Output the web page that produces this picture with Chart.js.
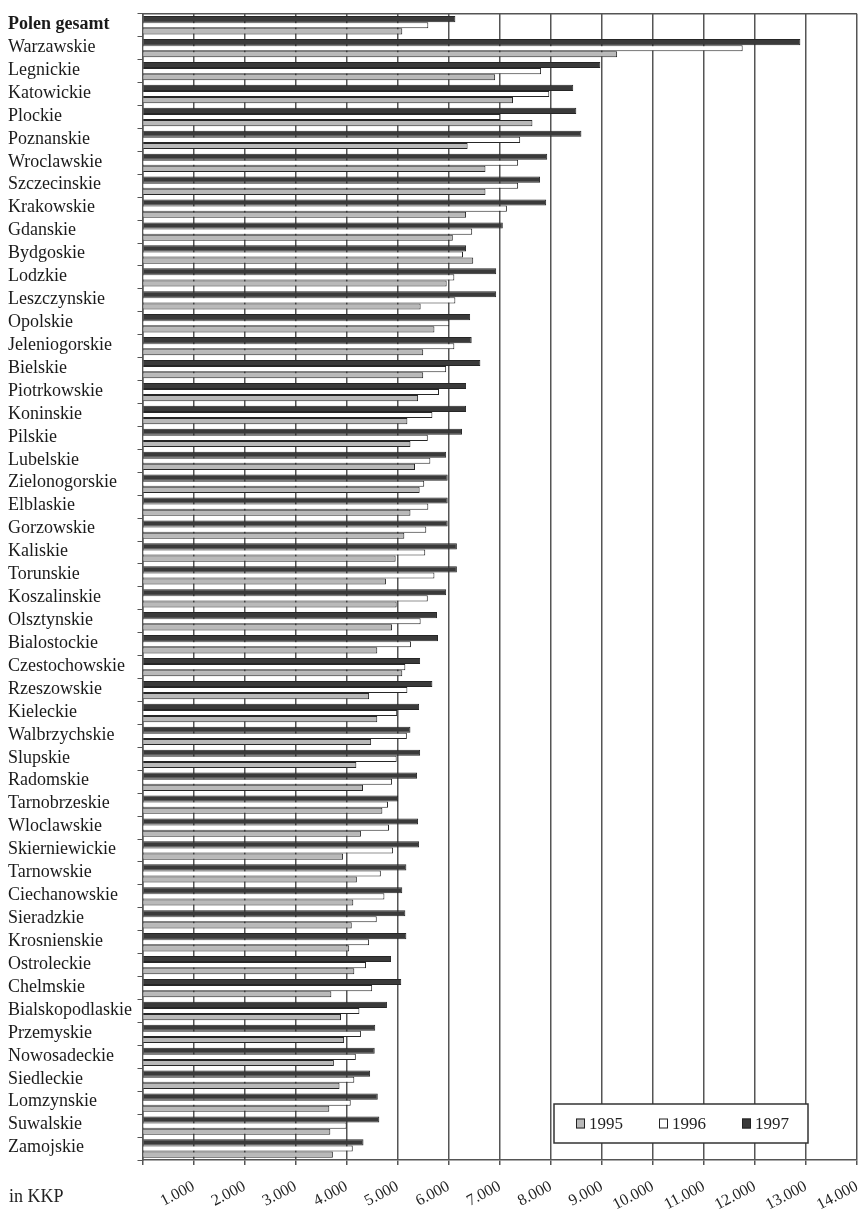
<!DOCTYPE html>
<html>
<head>
<meta charset="utf-8">
<title>Polen gesamt - in KKP</title>
<script src="https://cdn.jsdelivr.net/npm/chart.js@4.4.0/dist/chart.umd.min.js"></script>
<style>
    html, body { margin: 0; padding: 0; background: #fff; }
    #wrap { position: relative; width: 859px; height: 1219px; }
</style>
</head>
<body>
<div id="wrap"><canvas id="myChart"></canvas></div>
<script>
/*global Chart*/

const regions = [
    'Polen gesamt', 'Warzawskie', 'Legnickie', 'Katowickie', 'Plockie',
    'Poznanskie', 'Wroclawskie', 'Szczecinskie', 'Krakowskie', 'Gdanskie',
    'Bydgoskie', 'Lodzkie', 'Leszczynskie', 'Opolskie', 'Jeleniogorskie',
    'Bielskie', 'Piotrkowskie', 'Koninskie', 'Pilskie', 'Lubelskie',
    'Zielonogorskie', 'Elblaskie', 'Gorzowskie', 'Kaliskie', 'Torunskie',
    'Koszalinskie', 'Olsztynskie', 'Bialostockie', 'Czestochowskie', 'Rzeszowskie',
    'Kieleckie', 'Walbrzychskie', 'Slupskie', 'Radomskie', 'Tarnobrzeskie',
    'Wloclawskie', 'Skierniewickie', 'Tarnowskie', 'Ciechanowskie', 'Sieradzkie',
    'Krosnienskie', 'Ostroleckie', 'Chelmskie', 'Bialskopodlaskie', 'Przemyskie',
    'Nowosadeckie', 'Siedleckie', 'Lomzynskie', 'Suwalskie', 'Zamojskie'
];

const values1995 = [
    5090, 9300, 6910, 7260, 7640, 6370, 6720, 6720, 6340, 6080,
    6480, 5960, 5450, 5720, 5500, 5500, 5400, 5190, 5250, 5340,
    5430, 5250, 5130, 4960, 4770, 4980, 4890, 4600, 5090, 4440,
    4600, 4480, 4190, 4320, 4700, 4280, 3930, 4200, 4130, 4100,
    4050, 4150, 3700, 3890, 3950, 3750, 3860, 3660, 3680, 3730
];

const values1996 = [
    5600, 11760, 7810, 7970, 7010, 7400, 7360, 7360, 7140, 6460,
    6280, 6110, 6130, 6010, 6110, 5950, 5810, 5680, 5590, 5640,
    5520, 5600, 5560, 5540, 5720, 5590, 5450, 5260, 5150, 5190,
    4990, 5180, 4980, 4890, 4810, 4830, 4910, 4670, 4740, 4590,
    4440, 4380, 4500, 4250, 4280, 4180, 4150, 4080, 4000, 4120
];

const values1997 = [
    6130, 12890, 8970, 8440, 8500, 8600, 7930, 7790, 7910, 7060,
    6340, 6930, 6930, 6420, 6450, 6620, 6340, 6340, 6260, 5950,
    5980, 5980, 5980, 6160, 6160, 5950, 5770, 5790, 5440, 5680,
    5420, 5250, 5440, 5380, 5010, 5400, 5420, 5170, 5090, 5150,
    5170, 4870, 5070, 4790, 4560, 4550, 4460, 4610, 4640, 4330
];

const years = ['1995', '1996', '1997'];
const xTickLabels = ['', '1.000', '2.000', '3.000', '4.000', '5.000', '6.000', '7.000',
    '8.000', '9.000', '10.000', '11.000', '12.000', '13.000', '14.000'];
const unitLabel = 'in KKP';

const SERIF = '"Liberation Serif", "Times New Roman", serif';

// rahmen oben
const frame = {
    id: 'frame',
    afterDatasetsDraw(chart) {
        const {ctx, chartArea: a} = chart;
        ctx.save();
        ctx.strokeStyle = '#555';
        ctx.lineWidth = 1.5;
        ctx.beginPath();
        ctx.moveTo(a.left, a.top);
        ctx.lineTo(a.right, a.top);
        ctx.stroke();
        ctx.restore();
    }
};

// legende im diagramm unten rechts
const boxLegend = {
    id: 'boxLegend',
    afterDraw(chart) {
        const {ctx, chartArea: a} = chart;
        const left = a.right - 303, top = a.bottom - 56, w = 254, h = 39;
        ctx.save();
        ctx.fillStyle = '#fff';
        ctx.fillRect(left, top, w, h);
        ctx.strokeStyle = '#333';
        ctx.lineWidth = 1.5;
        ctx.strokeRect(left, top, w, h);
        ctx.font = '17px ' + SERIF;
        ctx.textBaseline = 'middle';
        const items = chart.data.datasets.slice().reverse();
        items.forEach((ds, i) => {
            const x = left + 22 + i * 83;
            const y = top + h / 2;
            ctx.fillStyle = ds.backgroundColor;
            ctx.fillRect(x, y - 5, 9, 10);
            ctx.strokeStyle = '#222';
            ctx.lineWidth = 1;
            ctx.strokeRect(x + 0.5, y - 4.5, 8, 9);
            ctx.fillStyle = '#222';
            ctx.fillText(ds.label, x + 13, y + 1);
        });
        ctx.restore();
    }
};

// einheit links unten
const unitText = {
    id: 'unitText',
    afterDraw(chart) {
        const {ctx, chartArea: a} = chart;
        ctx.save();
        ctx.font = '18px ' + SERIF;
        ctx.fillStyle = '#222';
        ctx.textBaseline = 'middle';
        ctx.fillText(unitLabel, 9, a.bottom + 37);
        ctx.restore();
    }
};

const data = {
    labels: regions,
    datasets: [
        {label: years[2], data: values1997, backgroundColor: '#3a3a3a'},
        {label: years[1], data: values1996, backgroundColor: '#ffffff'},
        {label: years[0], data: values1995, backgroundColor: '#b9b9b9'}
    ]
};
data.datasets.forEach(ds => {
    ds.borderColor = '#262626';
    ds.borderWidth = 1;
    ds.categoryPercentage = 0.8;
    ds.barPercentage = 1.0;
});

const config = {
    type: 'bar',
    data,
    options: {
        indexAxis: 'y',
        responsive: true,
        maintainAspectRatio: false,
        animation: false,
        layout: {padding: {left: 8, top: 10, right: 2, bottom: 0}},
        plugins: {
            legend: {display: false},
            tooltip: {enabled: false}
        },
        scales: {
            x: {
                min: 0,
                max: 14000,
                ticks: {
                    stepSize: 1000,
                    autoSkip: false,
                    maxRotation: 28,
                    minRotation: 28,
                    padding: 12,
                    color: '#222',
                    font: {family: SERIF, size: 16},
                    callback: (value, i) => xTickLabels[i]
                },
                grid: {color: '#555', lineWidth: 1.5, tickLength: 5},
                border: {color: '#555', width: 1.5},
                afterFit(scale) {
                    scale.height = 59;
                    scale.paddingLeft = 0;
                    scale.paddingRight = 0;
                }
            },
            y: {
                ticks: {
                    crossAlign: 'far',
                    autoSkip: false,
                    labelOffset: -1,
                    color: '#1a1a1a',
                    font: ctx => ({
                        family: SERIF,
                        size: 18,
                        weight: ctx.index === 0 ? 'bold' : 'normal'
                    })
                },
                grid: {drawOnChartArea: false, color: '#555', tickLength: 5},
                border: {color: '#555', width: 1.5},
                afterFit(scale) {
                    scale.width = 134.5;
                }
            }
        }
    },
    plugins: [frame, boxLegend, unitText]
};

/*eslint-disable no-unused-vars*/
const graphe = new Chart(document.getElementById('myChart'), config);
</script>
</body>
</html>
